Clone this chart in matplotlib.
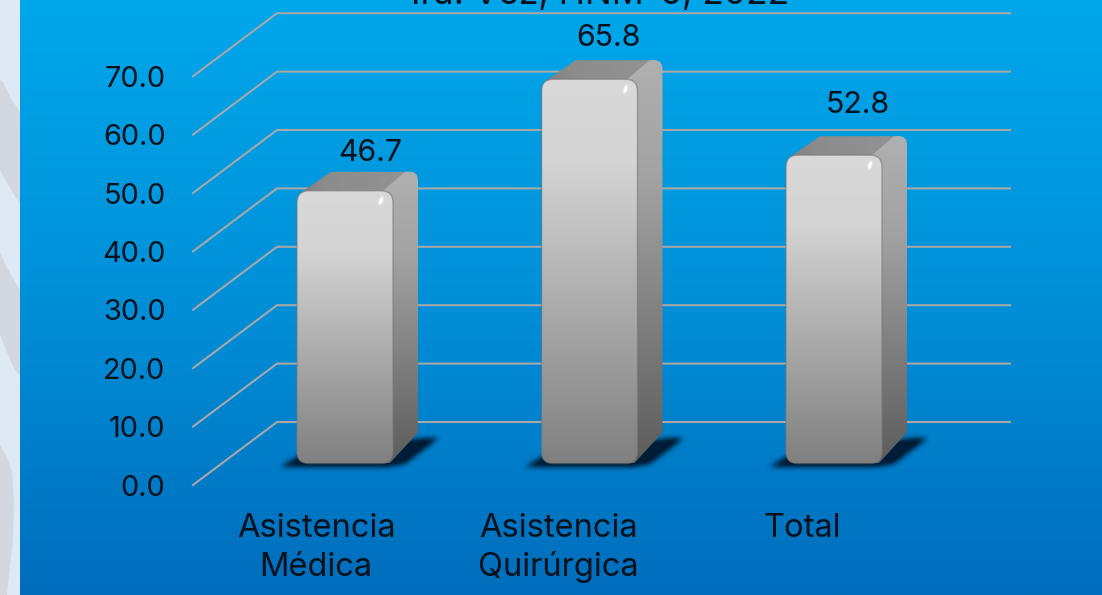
import numpy as np
import matplotlib
matplotlib.use("Agg")
import matplotlib.pyplot as plt
from matplotlib.patches import Polygon, PathPatch, Ellipse, Rectangle
from matplotlib.path import Path
from matplotlib.colors import LinearSegmentedColormap, to_rgb
from matplotlib.transforms import Affine2D

# ---------- data ----------
categories = ["Asistencia\nMédica", "Asistencia\nQuirúrgica", "Total"]
values = [46.7, 65.8, 52.8]
y_ticks = [0, 10, 20, 30, 40, 50, 60, 70]
title_text = "1ra. Vez, HNM-6, 2022"

# ---------- layout (pixels of the 1102x595 canvas) ----------
W, H = 1102, 595
CAT_PX, CAT0 = 244.5, 345.0      # px per category, px of first bar centre
VAL_PX, BASE = 5.84, 463.5       # px per unit, px of value 0 on the bar plane
BAR_W = 96
SIDE_DX, SIDE_DY = 25, 19
FONT = "Inter"
FS_TICK, FS_VAL, FS_CAT, FS_TITLE = 20.8, 21.8, 23.5, 25.5
INK = "#06111c"

plt.rcParams["font.family"] = [FONT, "DejaVu Sans"]
fig = plt.figure(figsize=(W / 100, H / 100), dpi=100)
ax = fig.add_axes([0, 0, 1, 1])
ax.set_xlim(-CAT0 / CAT_PX, (W - CAT0) / CAT_PX)
ax.set_ylim((BASE - H) / VAL_PX, BASE / VAL_PX)
ax.axis("off")
xlim, ylim = ax.get_xlim(), ax.get_ylim()

dx = lambda p: p / CAT_PX        # horizontal px -> x units
dy = lambda p: p / VAL_PX        # vertical px (upwards) -> y units
canvas = Affine2D().scale(1, -1).translate(0, H)   # canvas px -> display

# ---------- background ----------
bg = LinearSegmentedColormap.from_list("bg", ["#00a7eb", "#0090d8", "#006dbc"])
ax.imshow(np.linspace(0, 1, 256)[:, None], cmap=bg, extent=(0, 1, 0, 1),
          transform=ax.transAxes, aspect="auto", zorder=0)

ax.add_patch(Rectangle((0, 0), 20, H, transform=canvas, fc="#dee9f5", ec="none", zorder=1))
blobs = [
    [(0, 80), (3, 82), (10, 97), (20, 112), (20, 204), (10, 188), (3, 176), (0, 170)],
    [(0, 252), (6, 266), (14, 280), (20, 290), (20, 376), (14, 368), (6, 350), (0, 335)],
    [(0, 445), (6, 455), (12, 472), (14, 500), (13, 540), (9, 575), (7, 595), (0, 595)],
]
for b in blobs:
    ax.add_patch(Polygon(b, closed=True, transform=canvas, fc="#d3d7df", ec="none", zorder=1.1))

# ---------- grid ----------
GRID_FRONT_X, GRID_BACK_X, GRID_END_X = 193, 277, 1010
GRID_FRONT_Y, GRID_BACK_Y = 485.0, 422.0
for v in y_ticks:
    xs = [dx(GRID_FRONT_X - CAT0), dx(GRID_BACK_X - CAT0), dx(GRID_END_X - CAT0)]
    ys = [v + dy(BASE - GRID_FRONT_Y), v + dy(BASE - GRID_BACK_Y), v + dy(BASE - GRID_BACK_Y)]
    ax.plot(xs, ys, color="#a8a8a8", lw=1.5, zorder=2, solid_joinstyle="miter")
    ax.text(dx(165.5 - CAT0), v + dy(BASE - GRID_FRONT_Y), f"{v:.1f}", ha="right", va="center_baseline",
            fontsize=FS_TICK, color=INK, zorder=6)


# ---------- bars ----------
def rounded(x0, y0, x1, y1, rx, ry):
    verts = [(x0 + rx, y0), (x1 - rx, y0), (x1, y0), (x1, y0 + ry), (x1, y1 - ry), (x1, y1),
             (x1 - rx, y1), (x0 + rx, y1), (x0, y1), (x0, y1 - ry), (x0, y0 + ry), (x0, y0), (x0 + rx, y0)]
    codes = [Path.MOVETO, Path.LINETO, Path.CURVE3, Path.CURVE3, Path.LINETO, Path.CURVE3, Path.CURVE3,
             Path.LINETO, Path.CURVE3, Path.CURVE3, Path.LINETO, Path.CURVE3, Path.CURVE3]
    return Path(verts, codes)


def gradient_fill(path, stops, extent, z, horizontal=False):
    cm = LinearSegmentedColormap.from_list("g", stops)
    arr = np.linspace(0, 1, 256)
    arr = arr[None, :] if horizontal else arr[:, None]
    im = ax.imshow(arr, cmap=cm, extent=extent, origin="upper", aspect="auto", zorder=z)
    patch = PathPatch(path, transform=ax.transData, fc="none", ec="none", zorder=z)
    ax.add_patch(patch)
    im.set_clip_path(patch)
    return im


def blurred_shadow(poly_px, sigma, color, z):
    """Soft ground shadow: polygon given as (dx, dy) in data units, blurred on a pixel grid."""
    poly = np.array(poly_px)
    pad = dx(10), dy(10)
    x_min, x_max = poly[:, 0].min() - pad[0], poly[:, 0].max() + pad[0]
    y_min, y_max = poly[:, 1].min() - pad[1], poly[:, 1].max() + pad[1]
    nx = int((x_max - x_min) * CAT_PX)
    ny = int((y_max - y_min) * VAL_PX)
    gx, gy = np.meshgrid(np.linspace(x_min, x_max, nx), np.linspace(y_min, y_max, ny))
    mask = Path(poly).contains_points(np.c_[gx.ravel(), gy.ravel()]).reshape(gy.shape).astype(float)
    r = int(3 * sigma)
    k = np.exp(-0.5 * (np.arange(-r, r + 1) / sigma) ** 2)
    k /= k.sum()
    mask = np.apply_along_axis(lambda a: np.convolve(a, k, mode="same"), 0, mask)
    mask = np.apply_along_axis(lambda a: np.convolve(a, k, mode="same"), 1, mask)
    rgba = np.zeros(mask.shape + (4,))
    rgba[..., :3] = to_rgb(color)
    rgba[..., 3] = np.clip(mask * 1.15, 0, 1)
    ax.imshow(rgba, extent=(x_min, x_max, y_min, y_max), origin="lower", aspect="auto", zorder=z)


front_stops = [(0, "#d9d9d9"), (0.22, "#d4d4d4"), (1, "#808080")]
side_stops = [(0, "#b0b0b0"), (0.3, "#a2a2a2"), (1, "#5c5c5c")]
top_stops = [(0, "#7e7e7e"), (0.25, "#8c8c8c"), (1, "#939393")]

for i, v in enumerate(values):
    hw = dx(BAR_W / 2)
    x0, x1 = i - hw, i + hw
    sx, sy = dx(SIDE_DX), dy(SIDE_DY)
    rx, ry = dx(12), dy(12)

    # blurred ground shadow
    blurred_shadow([(x0 - dx(17), -dy(4)), (x0 + dx(3), dy(8)), (x1, dy(20)), (x1 + dx(25), dy(24.5)),
                    (x1 + dx(46), dy(25)), (x1 + dx(12), -dy(1)), (x1 - dx(5), -dy(4))],
                   2.6, "#001d38", 3)

    # top face
    top = Path([(x0 + dx(5), v - dy(1)), (x0 + sx + dx(9), v + sy), (x1 + sx - dx(6), v + sy),
                (x1 - dx(6), v - dy(1)), (x0 + dx(5), v - dy(1))],
               [Path.MOVETO, Path.LINETO, Path.LINETO, Path.LINETO, Path.CLOSEPOLY])
    gradient_fill(top, top_stops, (x0, x1 + sx, 0, v + sy), 4, horizontal=True)

    # side face (with rounded outer corner)
    side = Path([(x1 - dx(10), v), (x1 + sx - dx(13), v + sy), (x1 + sx - dx(8), v + sy),
                 (x1 + sx, v + sy), (x1 + sx, v + sy - dy(9)), (x1 + sx, dy(31)),
                 (x1 - dx(3), dy(0.5)), (x1 - dx(10), 0), (x1 - dx(10), v)],
                [Path.MOVETO, Path.LINETO, Path.LINETO, Path.CURVE3, Path.CURVE3,
                 Path.LINETO, Path.LINETO, Path.LINETO, Path.CLOSEPOLY])
    gradient_fill(side, side_stops, (x1 - dx(12), x1 + sx, 0, v + sy), 4.1)

    # front face
    path = rounded(x0, 0, x1, v, rx, ry)
    gradient_fill(path, front_stops, (x0, x1, 0, v), 5)
    ax.add_patch(PathPatch(path, fc="none", ec="#777777", lw=1.0, alpha=0.6, zorder=5.1))

    # specular spot
    spot_x = CAT0 + i * CAT_PX + BAR_W / 2 - 12
    spot_y = BASE - v * VAL_PX + 10
    ax.add_patch(Ellipse((spot_x, spot_y), 6, 11, angle=20, transform=canvas,
                         fc="white", ec="none", alpha=0.25, zorder=5.2))
    ax.add_patch(Ellipse((spot_x, spot_y), 3, 7.5, angle=20, transform=canvas,
                         fc="white", ec="none", zorder=5.3))

# ---------- texts ----------
LABEL_DX = [25, 18.5, 24]
LABEL_DY = [30, 33, 42]
for i, v in enumerate(values):
    ax.text(i + dx(LABEL_DX[i]), v + dy(LABEL_DY[i]), f"{v:.1f}", ha="center", va="baseline",
            fontsize=FS_VAL, color=INK, zorder=6)

CAT_DX = [-29, -31, -32]
for i, c in enumerate(categories):
    for j, line in enumerate(c.split("\n")):
        ax.text(i + dx(CAT_DX[i]), dy(BASE - 537 - 39 * j), line, ha="center", va="baseline",
                fontsize=FS_CAT, color=INK, zorder=6)

ax.text(dx(598 - CAT0), dy(BASE - 4), title_text, ha="center", va="baseline",
        fontsize=FS_TITLE, color=INK, zorder=6)

ax.set_xlim(xlim)
ax.set_ylim(ylim)
fig.savefig("out.png", dpi=100)
